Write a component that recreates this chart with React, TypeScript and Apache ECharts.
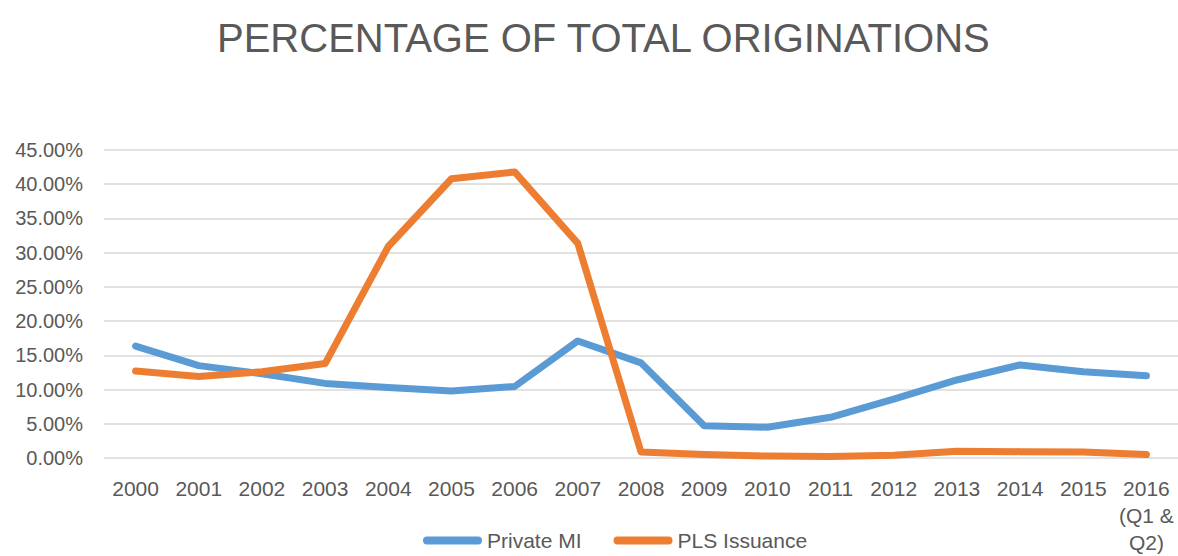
import React, { useEffect, useRef } from "react";
import * as echarts from "echarts";

const years = ["2000","2001","2002","2003","2004","2005","2006","2007","2008","2009","2010","2011","2012","2013","2014","2015","2016\n(Q1 &\nQ2)"];
const privateMI = [16.35, 13.5, 12.3, 10.9, 10.3, 9.8, 10.45, 17.1, 13.9, 4.7, 4.5, 5.95, 8.6, 11.4, 13.6, 12.6, 12.0];
const plsIssuance = [12.7, 11.9, 12.6, 13.8, 30.9, 40.8, 41.8, 31.35, 0.87, 0.5, 0.28, 0.22, 0.4, 0.97, 0.93, 0.87, 0.5];
const titleText = "PERCENTAGE OF TOTAL ORIGINATIONS";
const seriesNames = ["Private MI", "PLS Issuance"];

const FONT = "'Liberation Sans', Arial, sans-serif";
const TEXT = "#595959";

export default function App() {
  const ref = useRef<HTMLDivElement>(null);
  useEffect(() => {
    if (!ref.current) return;
    const chart = echarts.init(ref.current, null, { renderer: "svg" });
    chart.setOption({
      animation: false,
      backgroundColor: "#ffffff",
      title: {
        text: titleText,
        left: 212,
        top: 13,
        textStyle: { fontFamily: FONT, fontSize: 40, fontWeight: "normal", color: TEXT },
      },
      legend: {
        bottom: 5,
        left: 423,
        padding: 0,
        itemWidth: 59,
        itemHeight: 8,
        itemGap: 32,
        icon: "path://M4,0 H55 A4,4 0 0 1 55,8 H4 A4,4 0 0 1 4,0 Z",
        textStyle: { fontFamily: FONT, fontSize: 21, color: TEXT },
        data: [
          { name: seriesNames[0], itemStyle: { color: "#5B9BD5" } },
          { name: seriesNames[1], itemStyle: { color: "#ED7D31" } },
        ],
      },
      grid: { left: 104, right: 0, top: 150, bottom: 97, containLabel: false },
      xAxis: {
        type: "category",
        data: years,
        boundaryGap: true,
        axisLine: { show: false },
        axisTick: { show: false },
        axisLabel: {
          fontFamily: FONT,
          fontSize: 21,
          color: TEXT,
          margin: 17,
          lineHeight: 27,
          interval: 0,
        },
      },
      yAxis: {
        type: "value",
        min: 0,
        max: 45,
        interval: 5,
        axisLine: { show: false },
        axisTick: { show: false },
        splitLine: { lineStyle: { color: "#D9D9D9", width: 1.5 } },
        axisLabel: {
          fontFamily: FONT,
          fontSize: 20,
          color: TEXT,
          margin: 21,
          formatter: (v: number) => v.toFixed(2) + "%",
        },
      },
      series: [
        {
          name: seriesNames[0],
          type: "line",
          data: privateMI,
          symbol: "none",
          color: "#5B9BD5",
          lineStyle: { width: 7, color: "#5B9BD5", cap: "round", join: "round" },
        },
        {
          name: seriesNames[1],
          type: "line",
          data: plsIssuance,
          symbol: "none",
          color: "#ED7D31",
          lineStyle: { width: 7, color: "#ED7D31", cap: "round", join: "round" },
        },
      ],
    });
    return () => chart.dispose();
  }, []);
  return <div ref={ref} style={{ width: 1178, height: 556, position: "absolute", left: 0, top: 0 }} />;
}
